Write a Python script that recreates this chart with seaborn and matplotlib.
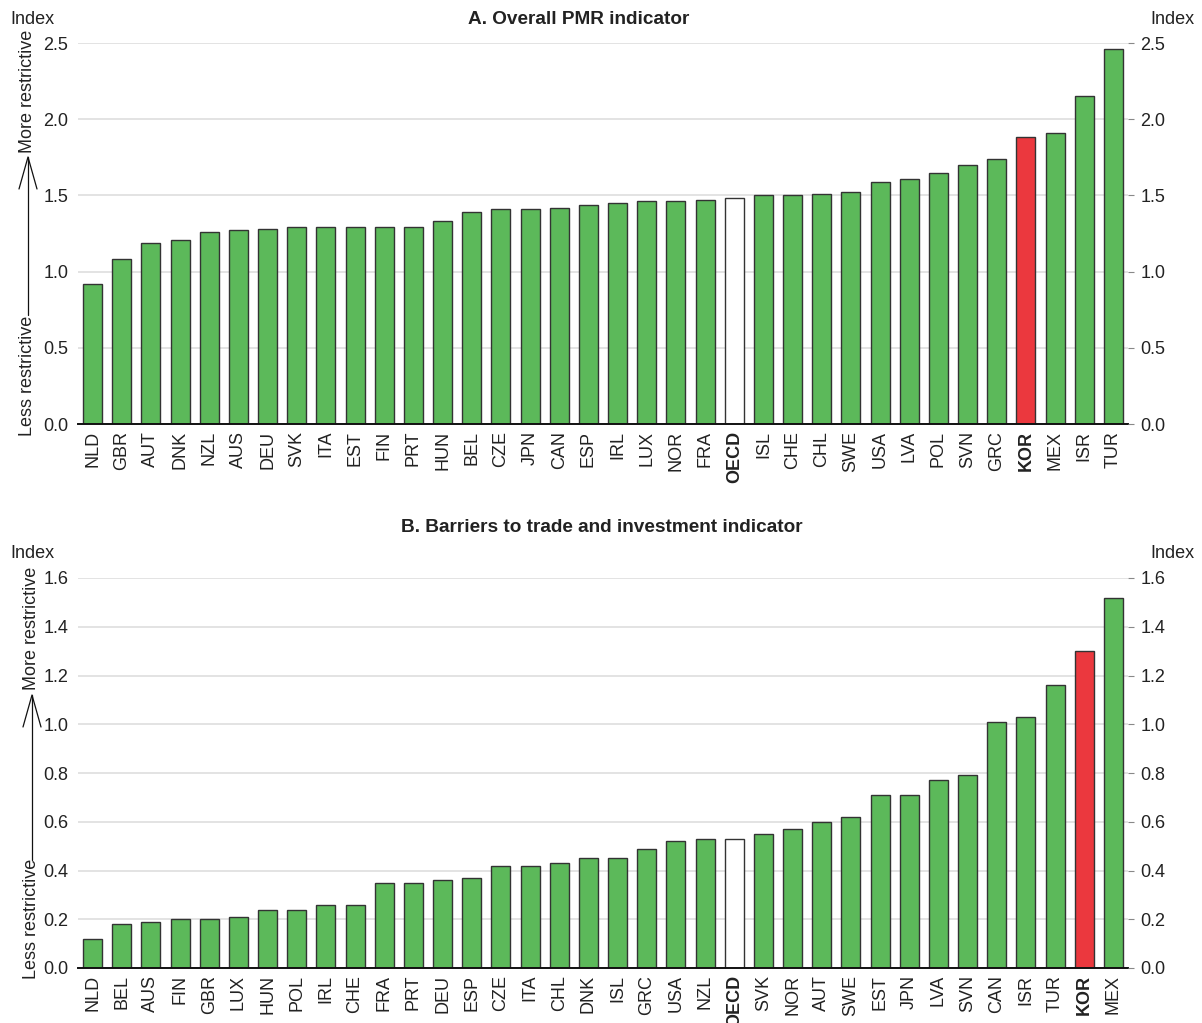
import matplotlib
matplotlib.use("Agg")
import matplotlib.pyplot as plt
from matplotlib.lines import Line2D
import seaborn as sns
import pandas as pd

# Panel A: overall product market regulation indicator
pmr_countries = ["NLD", "GBR", "AUT", "DNK", "NZL", "AUS", "DEU", "SVK", "ITA", "EST",
                 "FIN", "PRT", "HUN", "BEL", "CZE", "JPN", "CAN", "ESP", "IRL", "LUX",
                 "NOR", "FRA", "OECD", "ISL", "CHE", "CHL", "SWE", "USA", "LVA", "POL",
                 "SVN", "GRC", "KOR", "MEX", "ISR", "TUR"]
pmr_values = [0.92, 1.08, 1.19, 1.21, 1.26, 1.27, 1.28, 1.29, 1.29, 1.29,
              1.29, 1.29, 1.33, 1.39, 1.41, 1.41, 1.42, 1.44, 1.45, 1.46,
              1.46, 1.47, 1.48, 1.50, 1.50, 1.51, 1.52, 1.59, 1.61, 1.65,
              1.70, 1.74, 1.88, 1.91, 2.15, 2.46]

# Panel B: barriers to trade and investment indicator
bti_countries = ["NLD", "BEL", "AUS", "FIN", "GBR", "LUX", "HUN", "POL", "IRL", "CHE",
                 "FRA", "PRT", "DEU", "ESP", "CZE", "ITA", "CHL", "DNK", "ISL", "GRC",
                 "USA", "NZL", "OECD", "SVK", "NOR", "AUT", "SWE", "EST", "JPN", "LVA",
                 "SVN", "CAN", "ISR", "TUR", "KOR", "MEX"]
bti_values = [0.12, 0.18, 0.19, 0.20, 0.20, 0.21, 0.24, 0.24, 0.26, 0.26,
              0.35, 0.35, 0.36, 0.37, 0.42, 0.42, 0.43, 0.45, 0.45, 0.49,
              0.52, 0.53, 0.53, 0.55, 0.57, 0.60, 0.62, 0.71, 0.71, 0.77,
              0.79, 1.01, 1.03, 1.16, 1.30, 1.52]

pmr_ticks = [0.0, 0.5, 1.0, 1.5, 2.0, 2.5]
bti_ticks = [0.0, 0.2, 0.4, 0.6, 0.8, 1.0, 1.2, 1.4, 1.6]

GREEN = "#5cb95a"
RED = "#eb383e"
WHITE = "#ffffff"
EDGE = "#333333"
TXT = "#222222"
FS = 13

sns.set_theme(style="white")
plt.rcParams["font.family"] = ["Liberation Sans", "DejaVu Sans"]
plt.rcParams["text.color"] = TXT

W, H = 1202, 1023
fig = plt.figure(figsize=(W / 100, H / 100), dpi=100)


def px_box(left, top, right, bottom):
    return [left / W, 1 - bottom / H, (right - left) / W, (bottom - top) / H]


def bar_color(c):
    if c == "KOR":
        return RED
    if c == "OECD":
        return WHITE
    return GREEN


def draw_panel(rect, countries, values, ticks, title, title_x, title_y, index_y):
    ax = fig.add_axes(rect)
    df = pd.DataFrame({"country": countries, "value": values})
    palette = {c: bar_color(c) for c in countries}
    sns.barplot(data=df, x="country", y="value", hue="country", palette=palette,
                legend=False, ax=ax, width=0.65, edgecolor=EDGE, linewidth=1.0,
                saturation=1.0)
    ax.set_xlim(-0.5, len(countries) - 0.5)
    ax.set_ylim(0, ticks[-1])
    ax.set_yticks(ticks)
    ax.set_yticklabels([f"{t:.1f}" for t in ticks], fontsize=FS, color=TXT)
    ax.yaxis.grid(True, color="#e0e0e0", linewidth=1.3)
    ax.set_axisbelow(True)
    ax.tick_params(axis="y", length=0, pad=7)
    ax.tick_params(axis="x", length=0, pad=5)
    ax.set_xlabel("")
    ax.set_ylabel("")
    for s in ["top", "right", "left"]:
        ax.spines[s].set_visible(False)
    ax.spines["bottom"].set_color("#111111")
    ax.spines["bottom"].set_linewidth(1.4)
    ax.set_xticks(range(len(countries)))
    ax.set_xticklabels(countries, rotation=90, fontsize=FS, color=TXT)
    for lab in ax.get_xticklabels():
        if lab.get_text() in ("KOR", "OECD"):
            lab.set_fontweight("bold")

    ax2 = ax.twinx()
    ax2.set_ylim(0, ticks[-1])
    ax2.set_yticks(ticks)
    ax2.set_yticklabels([f"{t:.1f}" for t in ticks], fontsize=FS, color=TXT)
    ax2.tick_params(axis="y", length=4, width=0.8, color="#888888", pad=5)
    for s in ax2.spines.values():
        s.set_visible(False)
    ax2.grid(False)

    fig.text(title_x / W, 1 - title_y / H, title, ha="center", va="center",
             fontsize=13.7, fontweight="bold", color=TXT)
    fig.text(10 / W, 1 - index_y / H, "Index", ha="left", va="center",
             fontsize=FS, color=TXT)
    fig.text(1194 / W, 1 - index_y / H, "Index", ha="right", va="center",
             fontsize=FS, color=TXT)
    return ax


def restrictiveness_arrow(x, less_y, more_y, line_bottom, tip, head_len=32, head_half=9):
    fig.text(x / W, 1 - less_y / H, "Less restrictive", rotation=90,
             ha="center", va="center", fontsize=FS, color=TXT)
    fig.text(x / W, 1 - more_y / H, "More restrictive", rotation=90,
             ha="center", va="center", fontsize=FS, color=TXT)
    tf = fig.transFigure
    fig.add_artist(Line2D([x / W, x / W], [1 - line_bottom / H, 1 - tip / H],
                          transform=tf, color="#111111", linewidth=0.9))
    fig.add_artist(Line2D([(x - head_half) / W, x / W, (x + head_half) / W],
                          [1 - (tip + head_len) / H, 1 - tip / H, 1 - (tip + head_len) / H],
                          transform=tf, color="#111111", linewidth=0.9))


draw_panel(px_box(78, 43, 1128, 424), pmr_countries, pmr_values, pmr_ticks,
           "A. Overall PMR indicator", 579, 19, 19)
draw_panel(px_box(78, 578, 1128, 968), bti_countries, bti_values, bti_ticks,
           "B. Barriers to trade and investment indicator", 602, 528, 553)

restrictiveness_arrow(28, 376, 91, 315, 157)
restrictiveness_arrow(32, 919, 628, 860, 695)

fig.savefig("out.png", dpi=100)
